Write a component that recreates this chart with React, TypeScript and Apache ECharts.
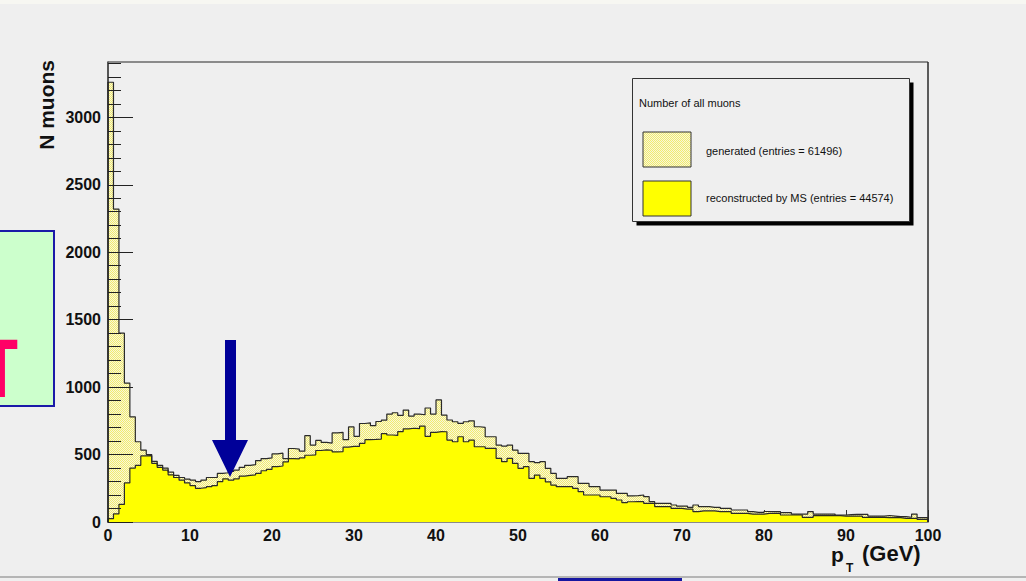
import React, { useEffect, useRef } from "react";
import * as echarts from "echarts";

// ---- data (150 bins, 0..100 GeV) ----
const X_MIN = 0;
const X_MAX = 100;

const generated: number[] = [
  3260, 2320, 1400, 1030, 780, 595, 533, 500, 450, 420,
  400, 370, 345, 330, 318, 311, 300, 311, 330, 330,
  360, 365, 375, 385, 405, 420, 425, 455, 470, 475,
  505, 510, 470, 545, 540, 525, 640, 570, 605, 590,
  585, 660, 665, 610, 705, 635, 730, 735, 715, 745,
  755, 800, 810, 790, 830, 785, 800, 795, 845, 800,
  905, 793, 756, 743, 731, 743, 750, 706, 701, 632,
  632, 570, 563, 570, 533, 509, 509, 447, 440, 447,
  398, 360, 323, 323, 336, 336, 286, 286, 262, 262,
  237, 237, 237, 212, 212, 193, 195, 200, 188, 151,
  138, 138, 138, 126, 118, 118, 109, 126, 114, 114,
  109, 109, 101, 101, 89, 89, 89, 77, 72, 72,
  78, 77, 77, 70, 70, 59, 59, 59, 77, 59,
  59, 59, 59, 52, 52, 55, 57, 57, 57, 44,
  44, 44, 48, 44, 40, 40, 35, 59, 32, 32,
];

const reconstructed: number[] = [
  25, 60, 130, 290, 400, 420, 490, 492, 435, 405,
  385, 350, 330, 310, 290, 270, 250, 255, 262, 270,
  300, 320, 310, 320, 340, 345, 350, 360, 380, 390,
  410, 415, 445, 470, 468, 475, 495, 498, 530, 535,
  532, 520, 522, 555, 560, 560, 583, 610, 612, 615,
  655, 645, 642, 670, 690, 695, 692, 710, 635, 665,
  670, 669, 607, 595, 632, 595, 607, 558, 558, 546,
  546, 472, 447, 472, 434, 398, 410, 323, 348, 323,
  298, 274, 262, 262, 262, 249, 225, 200, 200, 200,
  187, 187, 175, 163, 143, 150, 151, 151, 138, 138,
  114, 114, 114, 101, 101, 96, 96, 77, 82, 82,
  82, 77, 77, 77, 64, 64, 64, 59, 59, 59,
  64, 64, 64, 52, 52, 52, 52, 35, 35, 47,
  47, 47, 47, 47, 44, 44, 44, 44, 35, 35,
  35, 35, 32, 32, 32, 27, 27, 27, 20, 20,
];

const yMajorTicks: number[] = [0, 500, 1000, 1500, 2000, 2500, 3000];
const yMinorTicks: number[] = [
  100, 200, 300, 400, 600, 700, 800, 900, 1100, 1200, 1300, 1400,
  1600, 1700, 1800, 1900, 2100, 2200, 2300, 2400, 2600, 2700, 2800, 2900,
  3100, 3200, 3300, 3400,
];
const Y_MAX = 3410;

const legendTitle = "Number of all muons";
const legendGenerated = "generated (entries = 61496)";
const legendReconstructed = "reconstructed by MS (entries = 44574)";

// ---- helpers ----
function stepData(vals: number[]): number[][] {
  const w = (X_MAX - X_MIN) / vals.length;
  const pts: number[][] = [[X_MIN, 0]];
  vals.forEach((v, i) => pts.push([X_MIN + i * w, v]));
  pts.push([X_MAX, vals[vals.length - 1]]);
  pts.push([X_MAX, 0]);
  return pts;
}

function makeHatch(): any {
  const c = document.createElement("canvas");
  c.width = 4;
  c.height = 4;
  const ctx = c.getContext("2d")!;
  ctx.clearRect(0, 0, 4, 4);
  for (let y = 0; y < 4; y++) {
    for (let x = 0; x < 4; x++) {
      if ((x + y) % 2 === 0) {
        ctx.fillStyle = "rgba(242,236,110,1)";
      } else {
        ctx.fillStyle = "rgba(250,248,212,0.8)";
      }
      ctx.fillRect(x, y, 1, 1);
    }
  }
  return { image: c, repeat: "repeat", imageWidth: 4, imageHeight: 4 };
}

const FONT = "'Liberation Sans', Arial, Helvetica, sans-serif";

export default function App() {
  const ref = useRef<HTMLDivElement>(null);

  useEffect(() => {
    if (!ref.current) return;
    const chart = echarts.init(ref.current, undefined, { renderer: "svg" });
    const hatch = makeHatch();

    const option: any = {
      animation: false,
      backgroundColor: "#efefef",
      textStyle: { fontFamily: FONT },
      grid: { left: 108, right: 98, top: 62, bottom: 59, containLabel: false },
      xAxis: {
        type: "value",
        min: X_MIN,
        max: X_MAX,
        interval: 10,
        axisLine: { show: true, lineStyle: { color: "#8a8a8a", width: 2 } },
        axisTick: { show: true, inside: true, length: 12, lineStyle: { color: "#333", width: 1 } },
        axisLabel: {
          fontFamily: FONT,
          fontWeight: "bold",
          fontSize: 16,
          color: "#111",
          margin: 5,
          formatter: (v: number) => String(v),
        },
        splitLine: { show: false },
      },
      yAxis: [
        {
          type: "value",
          min: 0,
          max: Y_MAX,
          position: "left",
          z: 3,
          axisLine: { show: true, lineStyle: { color: "#222", width: 1.5 } },
          axisTick: {
            show: true,
            inside: true,
            length: 25,
            customValues: yMajorTicks,
            lineStyle: { color: "#222", width: 1 },
          },
          axisLabel: {
            customValues: yMajorTicks,
            fontFamily: FONT,
            fontWeight: "bold",
            fontSize: 16,
            color: "#111",
            margin: 7,
            formatter: (v: number) => String(v),
          },
          splitLine: { show: false },
        },
        {
          type: "value",
          min: 0,
          max: Y_MAX,
          position: "left",
          offset: 0,
          z: 3,
          axisLine: { show: false },
          axisTick: {
            show: true,
            inside: true,
            length: 13,
            customValues: yMinorTicks,
            lineStyle: { color: "#222", width: 1 },
          },
          axisLabel: { show: false },
          splitLine: { show: false },
        },
      ],
      series: [
        {
          name: "generated",
          type: "line",
          step: "end",
          yAxisIndex: 0,
          showSymbol: false,
          symbol: "none",
          data: stepData(generated),
          lineStyle: { color: "#2a2a2a", width: 1.2 },
          areaStyle: { color: hatch, opacity: 1 },
          z: 2,
        },
        {
          name: "reconstructed",
          type: "line",
          step: "end",
          yAxisIndex: 0,
          showSymbol: false,
          symbol: "none",
          data: stepData(reconstructed),
          lineStyle: { color: "#2a2a2a", width: 1.2 },
          areaStyle: { color: "#ffff00", opacity: 1 },
          z: 2,
        },
      ],
      graphic: [
        // page decoration
        { type: "rect", z: 50, shape: { x: 0, y: 0, width: 1026, height: 4 }, style: { fill: "#f7f7f2" } },
        { type: "rect", z: 50, shape: { x: 0, y: 576, width: 1026, height: 2 }, style: { fill: "#b5b5b5" } },
        { type: "rect", z: 50, shape: { x: 558, y: 578, width: 124, height: 4 }, style: { fill: "#1616a0" } },
        // frame top and right
        { type: "line", z: 50, shape: { x1: 108, y1: 62, x2: 928, y2: 62 }, style: { stroke: "#6a6a6a", lineWidth: 1.5 } },
        { type: "line", z: 50, shape: { x1: 928, y1: 62, x2: 928, y2: 522 }, style: { stroke: "#2a2a2a", lineWidth: 1.5 } },
        // left slide box with partial T
        {
          type: "rect",
          z: 60,
          shape: { x: -4, y: 231, width: 58, height: 175 },
          style: { fill: "#ccffcc", stroke: "#1a1aa8", lineWidth: 2 },
        },
        {
          type: "text",
          z: 61,
          x: 1,
          y: 368,
          scaleX: 0.66,
          style: {
            text: "T",
            fill: "#ff0066",
            font: "bold 84px " + FONT,
            align: "center",
            verticalAlign: "middle",
          },
        },
        // arrow
        {
          type: "polygon",
          z: 60,
          shape: {
            points: [
              [225, 340], [236, 340], [236, 440], [248, 440],
              [230, 477], [212, 440], [225, 440],
            ],
          },
          style: { fill: "#000099" },
        },
        // axis titles
        {
          type: "text",
          z: 60,
          x: 46,
          y: 60,
          rotation: Math.PI / 2,
          style: {
            text: "N muons",
            fill: "#111",
            font: "bold 21px " + FONT,
            align: "right",
            verticalAlign: "middle",
          },
        },
        {
          type: "text",
          z: 60,
          x: 831,
          y: 554,
          style: { text: "p", fill: "#111", font: "bold 21px " + FONT, align: "left", verticalAlign: "middle" },
        },
        {
          type: "text",
          z: 60,
          x: 846,
          y: 568,
          style: { text: "T", fill: "#111", font: "bold 12px " + FONT, align: "left", verticalAlign: "middle" },
        },
        {
          type: "text",
          z: 60,
          x: 862,
          y: 553,
          style: { text: "(GeV)", fill: "#111", font: "bold 22px " + FONT, align: "left", verticalAlign: "middle" },
        },
        // legend
        { type: "rect", z: 70, shape: { x: 636.5, y: 82.5, width: 277, height: 143 }, style: { fill: "#000" } },
        {
          type: "rect",
          z: 71,
          shape: { x: 632.5, y: 78.5, width: 277, height: 143 },
          style: { fill: "#efefef", stroke: "#333", lineWidth: 1 },
        },
        {
          type: "text",
          z: 72,
          x: 639,
          y: 103,
          style: { text: legendTitle, fill: "#111", font: "11px " + FONT, align: "left", verticalAlign: "middle" },
        },
        {
          type: "rect",
          z: 72,
          shape: { x: 643, y: 132, width: 48, height: 35 },
          style: { fill: hatch, stroke: "#333", lineWidth: 1 },
        },
        {
          type: "text",
          z: 72,
          x: 706,
          y: 151,
          style: { text: legendGenerated, fill: "#111", font: "11px " + FONT, align: "left", verticalAlign: "middle" },
        },
        {
          type: "rect",
          z: 72,
          shape: { x: 643, y: 181, width: 48, height: 35 },
          style: { fill: "#ffff00", stroke: "#333", lineWidth: 1 },
        },
        {
          type: "text",
          z: 72,
          x: 706,
          y: 198,
          style: { text: legendReconstructed, fill: "#111", font: "11px " + FONT, align: "left", verticalAlign: "middle" },
        },
      ],
    };

    chart.setOption(option);
    return () => chart.dispose();
  }, []);

  return (
    <div
      ref={ref}
      style={{ position: "absolute", left: 0, top: 0, width: 1026, height: 581, background: "#efefef" }}
    />
  );
}
